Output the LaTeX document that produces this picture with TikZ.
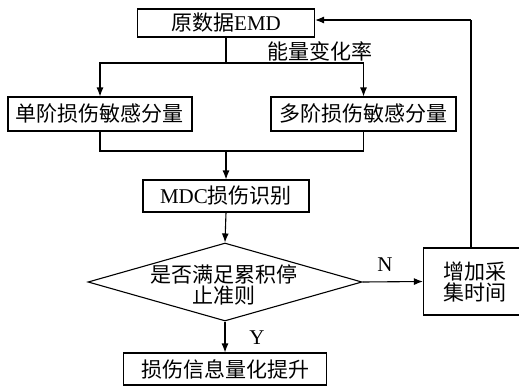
\documentclass[tikz,border=0pt]{standalone}
\usepackage{fontspec}
\setmainfont{Liberation Serif}
\newfontfamily\cjk{Noto Sans CJK SC}
\usetikzlibrary{arrows.meta,shapes.geometric}
\begin{document}
\begin{tikzpicture}[x=1pt,y=-1pt,
  every node/.style={font=\fontsize{21}{22}\selectfont, inner sep=0pt},
  box/.style={draw, line width=1.1pt, fill=white, align=center},
  arr/.style={line width=1.1pt, -{Latex[length=9pt,width=7pt]}},
  ln/.style={line width=1.1pt}]
\useasboundingbox[fill=white] (0,0) rectangle (519,386);
\node[box, minimum width=177pt, minimum height=28pt] (top) at (226,23) {{\cjk 原数据}EMD};
\node[box, minimum width=184pt, minimum height=34pt] (left) at (100,114) {\cjk 单阶损伤敏感分量};
\node[box, minimum width=185pt, minimum height=34pt] (right) at (363.5,114) {\cjk 多阶损伤敏感分量};
\node[box, minimum width=166pt, minimum height=32pt] (mdc) at (226,196) {MDC{\cjk 损伤识别}};
\node[draw, line width=1.1pt, shape=diamond, minimum width=274pt, minimum height=78pt] (dia) at (225,282) {};
\node[align=center, font=\fontsize{21}{19}\selectfont\cjk] (diatext) at (224,285) {是否满足累积停\\止准则};
\node[box, minimum width=103pt, minimum height=67pt, font=\fontsize{21}{21}\selectfont\cjk] (inc) at (475,281.5) {增加采\\集时间};
\node[box, minimum width=203pt, minimum height=32pt] (res) at (225,369) {\cjk 损伤信息量化提升};
\coordinate (split) at (226,63);
\coordinate (merge) at (226,151);
\draw[ln] (top.south) -- (split);
\draw[arr] (split) -| (left.north);
\draw[arr] (split) -| (right.north);
\node[font=\fontsize{21}{22}\selectfont\cjk] (lab) at (320,51) {能量变化率};
\draw[ln] (left.south) |- (merge);
\draw[ln] (right.south) |- (merge);
\draw[arr] (merge) -- (mdc.north);
\draw[arr] (mdc.south) -- (dia.north);
\draw[arr] (dia.east) -- (inc.west);
\node (N) at (385,265) {N};
\draw[arr] (dia.south) -- (res.north);
\node (Y) at (257,338) {Y};
\coordinate (up) at (471,20);
\draw[ln] (inc.north -| up) -- (up);
\draw[arr] (up) -- (top.east |- up);
\end{tikzpicture}
\end{document}
